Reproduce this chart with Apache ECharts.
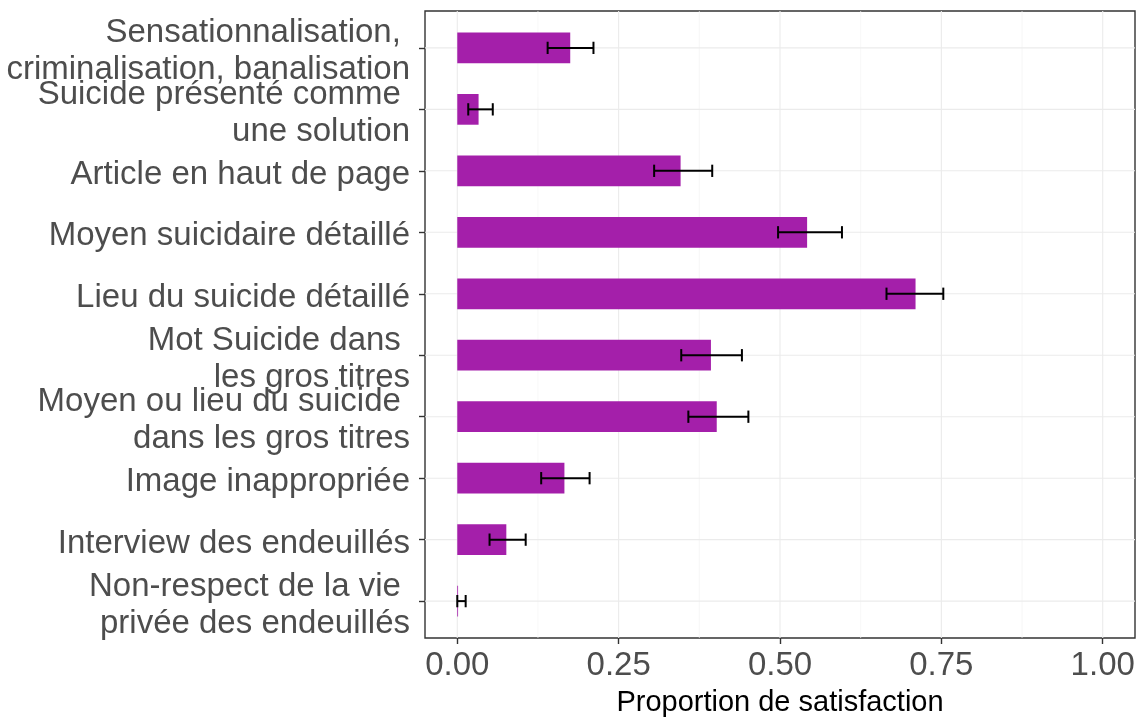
<!DOCTYPE html>
<html>
<head>
<meta charset="utf-8">
<script src="https://cdn.jsdelivr.net/npm/echarts@6/dist/echarts.min.js"></script>
<style>
  html, body { margin: 0; padding: 0; background: #ffffff; }
  #chart { width: 1145px; height: 724px; }
</style>
</head>
<body>
<div id="chart"></div>
<script>
// Criteria, listed top to bottom
const categories = [
  'Sensationnalisation, \ncriminalisation, banalisation',
  'Suicide présenté comme \nune solution',
  'Article en haut de page',
  'Moyen suicidaire détaillé',
  'Lieu du suicide détaillé',
  'Mot Suicide dans \nles gros titres',
  'Moyen ou lieu du suicide \ndans les gros titres',
  'Image inappropriée',
  'Interview des endeuillés',
  'Non-respect de la vie \nprivée des endeuillés'
];
// Proportion estimates with their confidence limits
const proportions = [0.175, 0.033, 0.346, 0.542, 0.710, 0.393, 0.402, 0.166, 0.076, 0.001];
const lowerCI     = [0.140, 0.017, 0.305, 0.497, 0.665, 0.347, 0.358, 0.130, 0.050, 0.000];
const upperCI     = [0.211, 0.055, 0.395, 0.596, 0.753, 0.441, 0.451, 0.205, 0.106, 0.013];
// Axis breaks
const xMajorTicks = [0, 0.25, 0.5, 0.75, 1];
const xMinorTicks = [0.125, 0.375, 0.625, 0.875];
const yTicks = categories.map((_, i) => i + 1);

const FONT = "'Liberation Sans', Arial, sans-serif";
const BAR_COLOR = '#A41FAA';

// Discrete axis padding of 0.6 category on each side: the label axis is split
// into steps of 0.2 category so every category falls on one step.
const Y_PAD = 0.6, Y_STEP = 0.2;
const yMin = 1 - Y_PAD, yMax = categories.length + Y_PAD;
const labelSlots = Math.round((yMax - yMin) / Y_STEP) + 1;
const slotNames = Array.from({ length: labelSlots }, (_, k) => {
  const v = yMin + k * Y_STEP;
  const i = Math.round(v) - 1;
  return Math.abs(v - Math.round(v)) < 1e-6 && categories[i] ? categories[i] : '';
});

const barData = proportions.map((v, i) => [v, i + 1]);
const errData = proportions.map((v, i) => [lowerCI[i], upperCI[i], i + 1]);
const gridData = []
  .concat(xMinorTicks.map(v => ['xminor', v]))
  .concat(xMajorTicks.map(v => ['xmajor', v]))
  .concat(yTicks.map(v => ['y', v]));

// panel box, and a copy sitting a few pixels lower that only carries the text labels
const PANEL = { left: 425, right: 10, top: 11, bottom: 86 };
const LABEL_DROP = 4;

const chart = echarts.init(document.getElementById('chart'), null, { renderer: 'canvas' });

chart.setOption({
  animation: false,
  backgroundColor: '#ffffff',
  grid: [
    {
      left: PANEL.left, right: PANEL.right, top: PANEL.top, bottom: PANEL.bottom,
      outerBoundsMode: 'none', containLabel: false,
      show: true, borderColor: '#333333', borderWidth: 1.4, backgroundColor: '#ffffff'
    },
    {
      left: PANEL.left, right: PANEL.right,
      top: PANEL.top + LABEL_DROP, bottom: PANEL.bottom - LABEL_DROP,
      outerBoundsMode: 'none', containLabel: false, show: false
    }
  ],
  xAxis: [
    {
      type: 'value',
      gridIndex: 0,
      min: -0.05, max: 1.05,
      name: 'Proportion de satisfaction',
      nameLocation: 'middle',
      nameGap: 50,
      nameTextStyle: { fontFamily: FONT, fontSize: 29, color: '#000000' },
      axisLine: { show: false, onZero: false },
      splitLine: { show: false },
      axisTick: { show: true, length: 6, customValues: xMajorTicks, lineStyle: { color: '#333333', width: 1.4 } },
      axisLabel: {
        customValues: xMajorTicks,
        showMinLabel: true, showMaxLabel: true,
        formatter: v => v.toFixed(2),
        fontFamily: FONT, fontSize: 33, color: '#4D4D4D', margin: 11
      }
    },
    { type: 'value', gridIndex: 1, min: -0.05, max: 1.05, show: false }
  ],
  yAxis: [
    {
      // data scale for the marks, with the category ticks
      type: 'value',
      gridIndex: 0,
      min: yMin, max: yMax,
      inverse: true,
      position: 'left',
      axisLine: { show: false, onZero: false },
      splitLine: { show: false },
      axisLabel: { show: false },
      axisTick: { show: true, length: 6, customValues: yTicks, lineStyle: { color: '#333333', width: 1.4 } }
    },
    {
      // category labels
      type: 'category',
      gridIndex: 1,
      data: slotNames,
      boundaryGap: false,
      inverse: true,
      position: 'left',
      axisLine: { show: false, onZero: false },
      splitLine: { show: false },
      axisTick: { show: false },
      axisLabel: {
        interval: 0,
        fontFamily: FONT, fontSize: 33, color: '#4D4D4D', margin: 15,
        lineHeight: 37, align: 'right'
      }
    }
  ],
  series: [
    {
      // panel grid lines
      type: 'custom',
      xAxisIndex: 0, yAxisIndex: 0,
      z: 1,
      silent: true,
      data: gridData,
      renderItem(params, api) {
        const cs = params.coordSys;
        const kind = gridData[params.dataIndex][0];
        const v = api.value(1);
        if (kind === 'y') {
          const p = api.coord([0, v]);
          return { type: 'line', shape: { x1: cs.x, y1: p[1], x2: cs.x + cs.width, y2: p[1] },
                   style: { stroke: '#EBEBEB', lineWidth: 1.1 } };
        }
        const p = api.coord([v, 1]);
        return { type: 'line', shape: { x1: p[0], y1: cs.y, x2: p[0], y2: cs.y + cs.height },
                 style: { stroke: kind === 'xmajor' ? '#EBEBEB' : '#F3F3F3', lineWidth: kind === 'xmajor' ? 1.1 : 0.7 } };
      }
    },
    {
      // bars
      type: 'custom',
      xAxisIndex: 0, yAxisIndex: 0,
      z: 2,
      data: barData,
      encode: { x: 0, y: 1 },
      renderItem(params, api) {
        const v = api.value(0), c = api.value(1);
        const p0 = api.coord([0, c]);
        const p1 = api.coord([v, c]);
        const h = Math.abs(api.size([0, 1])[1]) * 0.5;
        return { type: 'rect',
                 shape: { x: p0[0], y: p0[1] - h / 2, width: Math.max(p1[0] - p0[0], 0.8), height: h },
                 style: { fill: BAR_COLOR } };
      }
    },
    {
      // confidence intervals
      type: 'custom',
      xAxisIndex: 0, yAxisIndex: 0,
      z: 3,
      data: errData,
      encode: { x: [0, 1], y: 2 },
      renderItem(params, api) {
        const c = api.value(2);
        const pl = api.coord([api.value(0), c]);
        const pu = api.coord([api.value(1), c]);
        const cap = Math.abs(api.size([0, 1])[1]) * 0.1;
        const st = { stroke: '#000000', lineWidth: 2 };
        return { type: 'group', children: [
          { type: 'line', shape: { x1: pl[0], y1: pl[1], x2: pu[0], y2: pu[1] }, style: st },
          { type: 'line', shape: { x1: pl[0], y1: pl[1] - cap, x2: pl[0], y2: pl[1] + cap }, style: st },
          { type: 'line', shape: { x1: pu[0], y1: pu[1] - cap, x2: pu[0], y2: pu[1] + cap }, style: st }
        ] };
      }
    }
  ]
});
</script>
</body>
</html>
